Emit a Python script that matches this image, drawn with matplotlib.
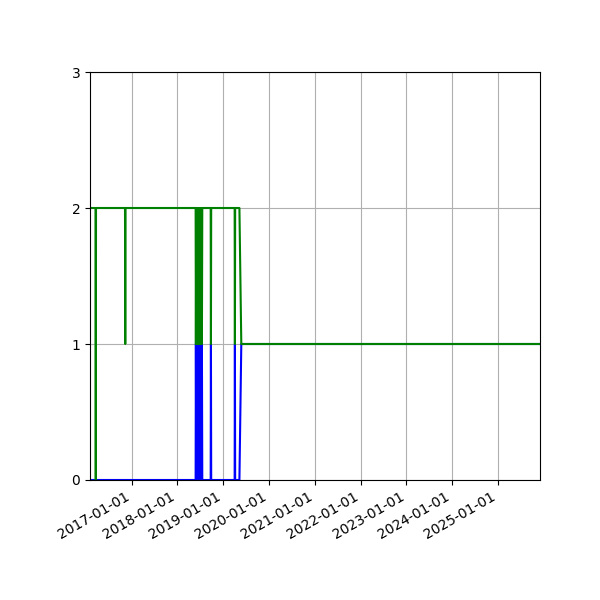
import matplotlib
matplotlib.use("Agg")
import matplotlib.pyplot as plt
import matplotlib.dates as mdates
import numpy as np

dates = [
    "2016-02-05", "2016-03-20", "2016-03-22", "2016-03-24",
    "2016-11-10", "2016-11-12", "2016-11-14",
    "2018-05-27", "2018-05-29", "2018-06-01", "2018-06-04", "2018-06-07",
    "2018-06-10", "2018-06-13", "2018-06-16", "2018-06-19", "2018-06-22",
    "2018-06-25", "2018-06-28", "2018-07-01", "2018-07-04", "2018-07-07",
    "2018-07-10", "2018-07-13", "2018-07-16", "2018-07-19", "2018-07-21",
    "2018-09-24", "2018-09-26", "2018-09-28",
    "2019-04-03", "2019-04-05", "2019-04-07",
    "2019-05-11", "2019-05-26",
    "2025-12-01",
]
blue_values = [
    0, 0, 0, 0,
    0, 0, 0,
    0, 1, 0, 1, 0,
    1, 0, 1, 0, 1,
    0, 1, 0, 1, 0,
    1, 0, 1, 0, 0,
    0, 1, 0,
    0, 1, 0,
    0, 1,
    1,
]
green_values = [
    2, 2, 0, 2,
    2, 1, 2,
    2, 1, 2, 1, 2,
    1, 2, 1, 2, 1,
    2, 1, 2, 1, 2,
    1, 2, 1, 2, 2,
    2, 1, 2,
    2, 1, 2,
    2, 1,
    1,
]

x = np.array(dates, dtype="datetime64[D]")

fig, ax = plt.subplots(figsize=(6, 6), dpi=100)
ax.plot(x, blue_values, color="b")
ax.plot(x, green_values, color="g")
ax.set_xlim(x[0], x[-1])
ax.set_ylim(0, 3)
ax.set_yticks([0, 1, 2, 3])
ax.xaxis.set_major_locator(mdates.YearLocator())
ax.xaxis.set_major_formatter(mdates.DateFormatter("%Y-%m-%d"))
ax.grid(True)
fig.autofmt_xdate()
fig.subplots_adjust(left=0.15, right=0.9, top=0.88, bottom=0.2)
fig.savefig("out.png", dpi=100)
